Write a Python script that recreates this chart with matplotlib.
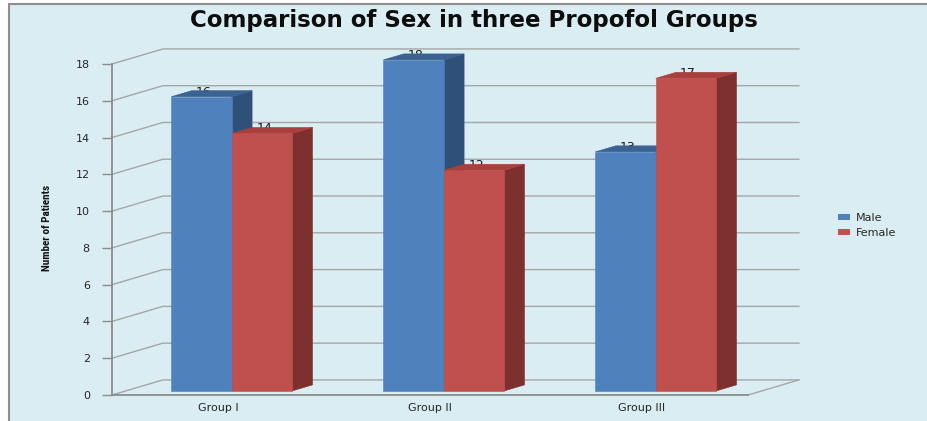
import matplotlib
matplotlib.use("Agg")
import matplotlib.pyplot as plt
from matplotlib.patches import Polygon, Rectangle, Patch
from matplotlib import font_manager

# ---- data -------------------------------------------------------------
groups = ["Group I", "Group II", "Group III"]
male = [16, 18, 13]
female = [14, 12, 17]
series_names = ["Male", "Female"]
y_ticks = list(range(0, 19, 2))

# ---- styling ----------------------------------------------------------
W, H = 927, 421
PANEL = "#DAEDF3"
FRAME = "#8E8E8E"
GRID = "#A6A6A6"
AXIS = "#8C8C8C"
MALE_COLORS = ("#4F81BD", "#3B6291", "#2F5078")     # front, top, side
FEMALE_COLORS = ("#C0504D", "#A8403D", "#7D302E")

DEPTH_X = 0.24     # oblique depth of the chart floor, category units
DEPTH_Y = 0.82     # oblique depth of the chart floor, value units
BAR_D0, BAR_D1 = 0.27, 0.67   # bars occupy this slice of the depth
BAR_W = 0.285

installed = {f.name for f in font_manager.fontManager.ttflist}
narrow = next((n for n in ["Liberation Sans Narrow", "Roboto Condensed",
                           "Open Sans Condensed", "DejaVu Sans Condensed"]
               if n in installed), "DejaVu Sans")

plt.rcParams["font.family"] = ["DejaVu Sans"]

fig = plt.figure(figsize=(W / 100, H / 100), dpi=100)
fig.patch.set_facecolor("white")

# light blue chart area with a grey frame
fig.patches.append(Rectangle((9 / W, -0.05), 1.2, 1.05 - 4 / H,
                             transform=fig.transFigure, facecolor=PANEL,
                             edgecolor=FRAME, linewidth=1.5, zorder=-5))

ax = fig.add_axes([112 / W, 26 / H, 636 / W, 331 / H])
ax.set_zorder(2)
ax.set_xlim(-0.5, len(groups) - 0.5)
ax.set_ylim(0, 18)
ax.patch.set_alpha(0)

x_left, x_right = -0.5, len(groups) - 0.5

# back wall gridlines with their diagonal runs to the front axis
for v in y_ticks:
    ax.plot([x_left, x_left + DEPTH_X, x_right + DEPTH_X],
            [v, v + DEPTH_Y, v + DEPTH_Y],
            color=GRID, lw=1.0, clip_on=False, zorder=1)
# right edge of the floor
ax.plot([x_right, x_right + DEPTH_X], [0, DEPTH_Y],
        color=GRID, lw=1.0, clip_on=False, zorder=1)


def bar3d(x0, h, colors, z):
    front_c, top_c, side_c = colors
    fx = x0 + BAR_D0 * DEPTH_X
    fy = BAR_D0 * DEPTH_Y
    dx = (BAR_D1 - BAR_D0) * DEPTH_X
    dy = (BAR_D1 - BAR_D0) * DEPTH_Y
    front = [(fx, fy), (fx + BAR_W, fy), (fx + BAR_W, fy + h), (fx, fy + h)]
    top = [(fx, fy + h), (fx + BAR_W, fy + h),
           (fx + BAR_W + dx, fy + h + dy), (fx + dx, fy + h + dy)]
    side = [(fx + BAR_W, fy), (fx + BAR_W + dx, fy + dy),
            (fx + BAR_W + dx, fy + h + dy), (fx + BAR_W, fy + h)]
    for pts, c in ((side, side_c), (top, top_c), (front, front_c)):
        ax.add_patch(Polygon(pts, closed=True, facecolor=c, edgecolor=c,
                             linewidth=0.4, clip_on=False, zorder=z))
    # value label tucked just behind the top face
    ax.text(fx + BAR_W / 2 + 0.01, fy + h + 0.06, f"{h}", ha="center",
            va="baseline", fontsize=9, color="#1A1A1A", zorder=2,
            clip_on=False)


for i, (m, f) in enumerate(zip(male, female)):
    bar3d(i - BAR_W, m, MALE_COLORS, 3 + 2 * i)
    bar3d(i, f, FEMALE_COLORS, 4 + 2 * i)

# axes and ticks
for s in ("top", "right"):
    ax.spines[s].set_visible(False)
for s in ("left", "bottom"):
    ax.spines[s].set_color(AXIS)
    ax.spines[s].set_linewidth(1.3)
ax.spines["left"].set_zorder(2)
ax.spines["bottom"].set_zorder(2)

ax.set_yticks(y_ticks)
ax.set_yticklabels([str(v) for v in y_ticks])
ax.tick_params(axis="y", direction="out", length=7, width=1, color=AXIS,
               pad=9, labelsize=8, labelcolor="#262626")
ax.set_xticks(range(len(groups)))
ax.set_xticklabels(groups)
ax.tick_params(axis="x", length=0, pad=6, labelsize=8, labelcolor="#262626")

ax.set_ylabel("Number of Patients", family=[narrow, "DejaVu Sans"],
              fontsize=8, fontweight="bold", color="#111111")
ax.yaxis.set_label_coords(-0.094, 0.505)

fig.text(474 / W, 1 - 20 / H, "Comparison of Sex in three Propofol Groups",
         ha="center", va="center", fontsize=16.5, fontweight="bold",
         color="#0D0D0D")

handles = [Patch(facecolor=MALE_COLORS[0], edgecolor="none"),
           Patch(facecolor=FEMALE_COLORS[0], edgecolor="none")]
fig.legend(handles, series_names, loc="upper left",
           bbox_to_anchor=(836 / W, 1 - 211 / H), frameon=False,
           fontsize=8, handlelength=1.1, handleheight=0.4,
           handletextpad=0.5, labelspacing=0.45, borderaxespad=0,
           borderpad=0.2, labelcolor="#262626")

fig.savefig("out.png", dpi=100, facecolor=fig.get_facecolor())
